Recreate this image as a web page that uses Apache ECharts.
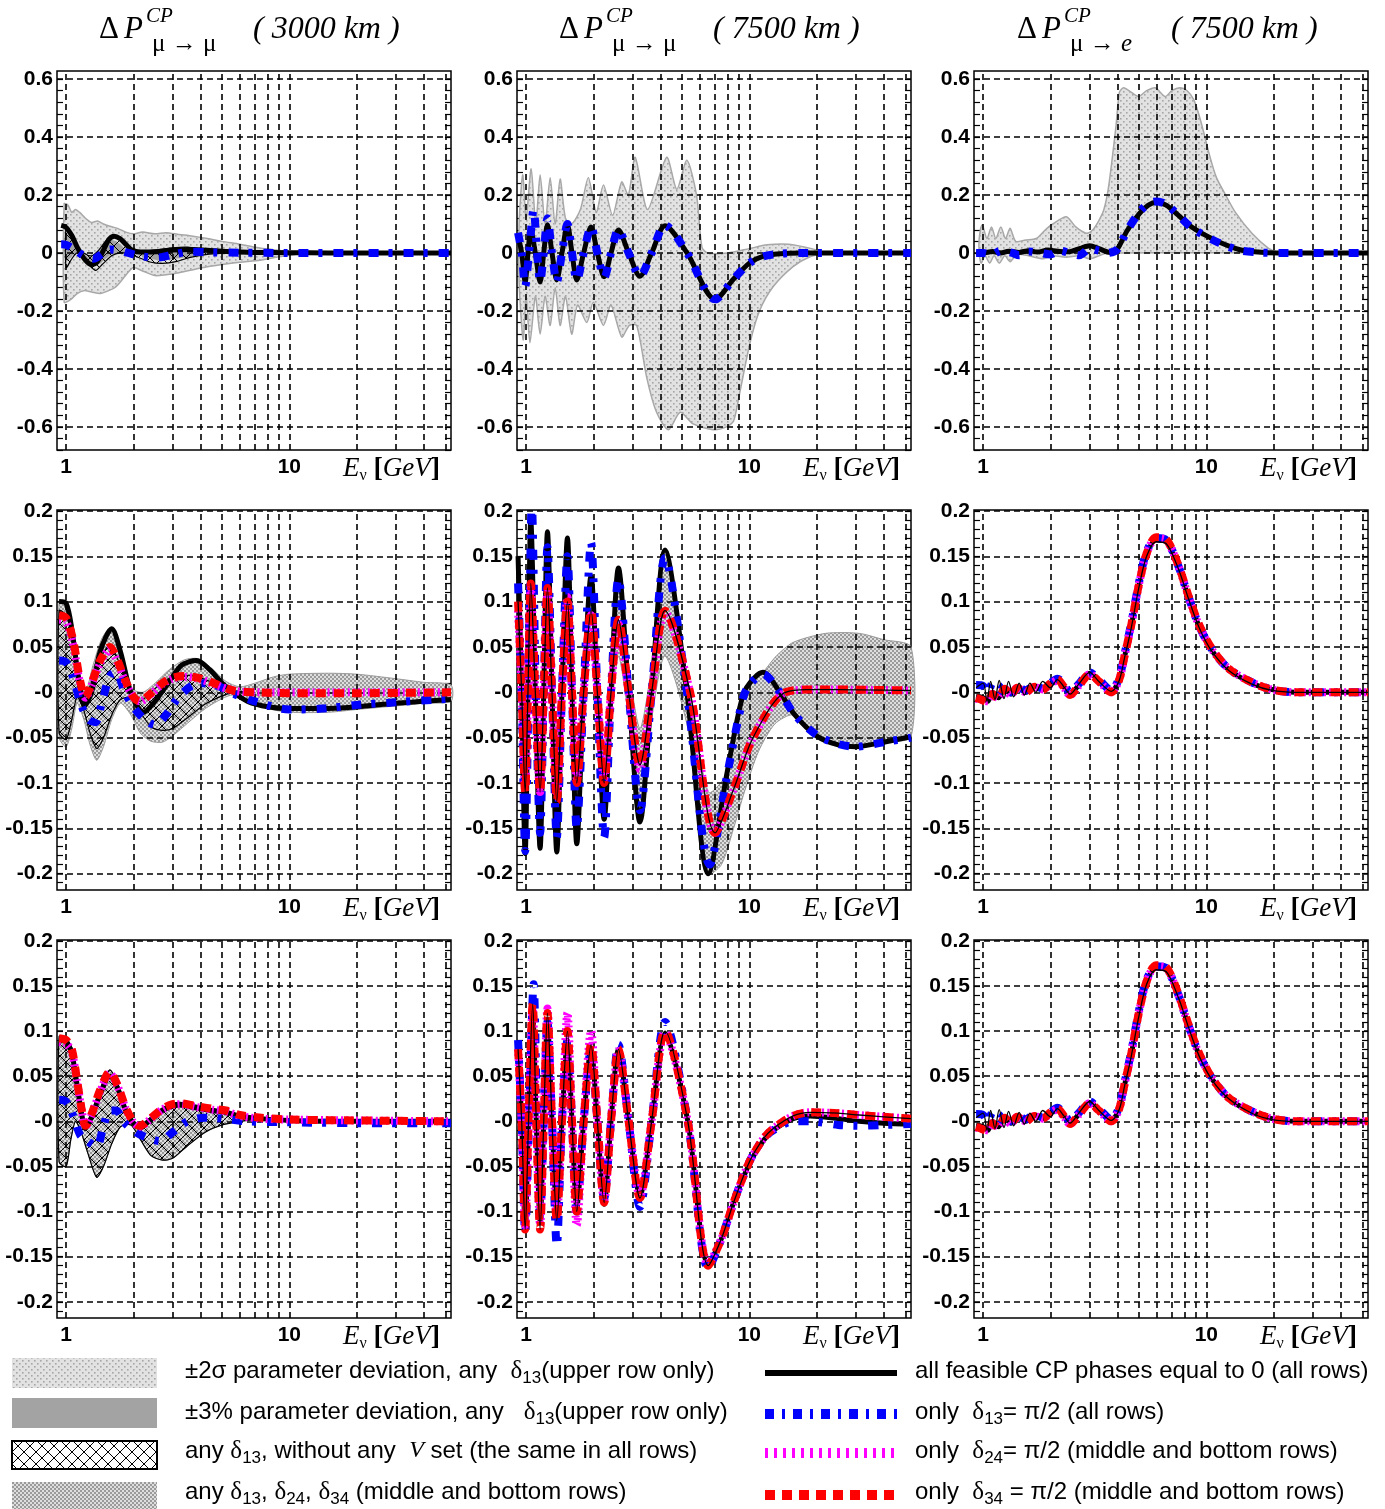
<!DOCTYPE html>
<html><head><meta charset="utf-8">
<script src="https://cdn.jsdelivr.net/npm/echarts@6/dist/echarts.min.js"></script>
<style>html,body{margin:0;padding:0;background:#fff}#c{width:1385px;height:1509px}</style>
</head><body><div id="c"></div>
<script>
// ---------------- axes / ticks ----------------
const X_MIN = 0.91, X_MAX = 53;
const X_GRID = [1,2,3,4,5,6,7,8,9,10,20,30,40,50];
const X_LABEL_VALUES = [1, 10];
const X_LABELS = ['1', '10'];
const TOP_Y_RANGE = [-0.68, 0.628];
const LOW_Y_RANGE = [-0.218, 0.201];
const TOP_Y_VALUES = [-0.6,-0.4,-0.2,0,0.2,0.4,0.6];
const TOP_Y_LABELS = ['-0.6','-0.4','-0.2','0','0.2','0.4','0.6'];
const LOW_Y_VALUES = [-0.2,-0.15,-0.1,-0.05,0,0.05,0.1,0.15,0.2];
const LOW_Y_LABELS = ['-0.2','-0.15','-0.1','-0.05','-0','0.05','0.1','0.15','0.2'];
const TITLES = ['( 3000 km )','( 7500 km )','( 7500 km )'];

// ---------------- top-left: 3000 km, mu->mu ----------------
const TL_S2_UP = [[0.98,0.17],[1.02,0.165],[1.06,0.14],[1.1,0.15],[1.15,0.14],[1.22,0.12],[1.3,0.105],[1.38,0.11],[1.47,0.1],[1.57,0.092],[1.7,0.085],[1.85,0.072],[2.0,0.066],[2.2,0.072],[2.5,0.066],[2.8,0.07],[3.2,0.064],[3.7,0.058],[4.3,0.05],[5,0.04],[6,0.03],[7,0.02],[8.5,0.011],[10,0.005],[12,0.0]];
const TL_S2_LO = [[0.98,-0.17],[1.05,-0.16],[1.12,-0.14],[1.2,-0.13],[1.3,-0.135],[1.42,-0.14],[1.55,-0.13],[1.65,-0.12],[1.75,-0.1],[1.88,-0.07],[2.0,-0.05],[2.2,-0.062],[2.5,-0.078],[2.8,-0.075],[3.2,-0.068],[3.6,-0.06],[4.0,-0.052],[5,-0.04],[6,-0.032],[7.4,-0.025],[9,-0.013],[11,-0.004],[12,0.0]];
const TL_P3_UP = [[1.0,0.07],[1.1,0.02],[1.2,-0.005],[1.3,-0.015],[1.45,0.02],[1.6,0.045],[1.75,0.03],[1.9,0.005],[2.2,0.0],[2.6,0.008],[3.2,0.014],[4,0.008],[5.5,0.002]];
const TL_P3_LO = [[1.0,-0.03],[1.1,0.0],[1.2,-0.018],[1.33,-0.045],[1.45,-0.03],[1.6,-0.005],[1.9,-0.002],[2.2,-0.012],[2.6,-0.025],[3.2,-0.018],[4,-0.006],[5.5,0.0]];
const TL_HX_UP = [[1.0,0.088],[1.06,0.06],[1.12,0.025],[1.2,0.0],[1.3,-0.01],[1.4,0.01],[1.5,0.04],[1.6,0.058],[1.7,0.055],[1.8,0.035],[1.92,0.01],[2.1,0.003],[2.5,0.01],[3.0,0.018],[3.5,0.02],[4.2,0.012],[5,0.006],[6.5,0.002]];
const TL_HX_LO = [[1.0,-0.05],[1.06,-0.02],[1.12,0.0],[1.2,-0.02],[1.3,-0.05],[1.36,-0.06],[1.45,-0.04],[1.6,-0.01],[1.75,0.0],[1.92,-0.002],[2.1,-0.015],[2.4,-0.032],[2.7,-0.036],[3.1,-0.03],[3.6,-0.015],[4.5,-0.003],[6.5,0.0]];
const TL_BLACK = [[0.95,0.095],[1.0,0.088],[1.06,0.06],[1.13,0.015],[1.22,-0.025],[1.3,-0.04],[1.38,-0.03],[1.47,0.01],[1.56,0.048],[1.64,0.058],[1.74,0.05],[1.85,0.03],[1.97,0.01],[2.15,0.003],[2.5,0.004],[3.0,0.01],[3.6,0.012],[4.3,0.009],[5.2,0.005],[7,0.002],[10,0.001],[15,0],[53,0]];
const TL_BLUE = [[0.95,0.03],[1.0,0.028],[1.1,0.01],[1.2,-0.01],[1.33,-0.02],[1.45,-0.002],[1.58,0.012],[1.75,0.008],[1.9,0.0],[2.2,-0.012],[2.56,-0.016],[3.0,-0.006],[3.6,0.004],[4.5,0.002],[6,0.001],[10,0],[53,0]];

// ---------------- top-middle: 7500 km, mu->mu ----------------
const TM_S2_UP = [[0.93,0.1],[0.965,0.27],[1.0,0.12],[1.053,0.29],[1.105,0.1],[1.155,0.27],[1.216,0.1],[1.281,0.26],[1.349,0.1],[1.42,0.255],[1.5,0.12],[1.6,0.1],[1.75,0.15],[1.9,0.26],[2.06,0.14],[2.22,0.235],[2.44,0.13],[2.68,0.245],[2.87,0.2],[3.08,0.33],[3.5,0.15],[4.26,0.33],[4.73,0.22],[5.25,0.32],[5.8,0.2],[6.13,0.02],[6.5,0.0],[8,0.0],[10,0.015],[12,0.028],[15,0.03],[19,0.015],[22,0.0]];
const TM_S2_LO = [[0.93,-0.1],[0.97,-0.3],[1.0,-0.15],[1.04,-0.31],[1.1,-0.15],[1.155,-0.28],[1.216,-0.15],[1.281,-0.25],[1.349,-0.12],[1.42,-0.25],[1.5,-0.15],[1.6,-0.28],[1.7,-0.18],[1.87,-0.24],[2.0,-0.17],[2.22,-0.25],[2.4,-0.18],[2.68,-0.29],[2.9,-0.25],[3.13,-0.25],[3.47,-0.43],[3.84,-0.55],[4.34,-0.61],[4.9,-0.55],[5.6,-0.59],[6.9,-0.61],[7.9,-0.6],[8.5,-0.58],[9.07,-0.48],[10.07,-0.31],[11.1,-0.2],[12.8,-0.116],[15.7,-0.047],[18.7,-0.013],[22,0.0]];
const TM_BLACK = [[0.92,0.06],[0.955,0.0],[0.99,-0.10],[1.019,0.0],[1.049,0.08],[1.0995,0.0],[1.155,-0.10],[1.199,0.0],[1.246,0.097],[1.306,0.0],[1.372,-0.093],[1.447,0.0],[1.531,0.097],[1.605,0.0],[1.686,-0.093],[1.81,0.0],[1.953,0.09],[2.085,0.0],[2.236,-0.082],[2.40,0.0],[2.592,0.079],[2.879,0.0],[3.236,-0.08],[3.65,0.0],[4.19,0.094],[5.26,0.0],[7.03,-0.16],[8.5,-0.09],[10,-0.035],[11.5,-0.012],[13.7,-0.003],[17,0.0],[53,0.0]];
const TM_BLUE = [[0.92,0.07],[0.955,0.0],[0.99,-0.115],[1.03,0.0],[1.08,0.15],[1.12,0.0],[1.155,-0.1],[1.199,0.0],[1.246,0.12],[1.306,0.0],[1.372,-0.1],[1.447,0.0],[1.531,0.1],[1.605,0.0],[1.686,-0.095],[1.81,0.0],[1.953,0.09],[2.085,0.0],[2.236,-0.085],[2.40,0.0],[2.592,0.08],[2.879,0.0],[3.236,-0.08],[3.65,0.0],[4.19,0.095],[5.26,0.0],[7.03,-0.16],[8.5,-0.09],[10,-0.035],[11.5,-0.012],[13.7,-0.003],[17,0.0],[53,0.0]];

// ---------------- top-right: 7500 km, mu->e ----------------
const TR_S2_UP = [[0.96,0.05],[0.99,0.097],[1.04,0.05],[1.09,0.09],[1.14,0.05],[1.2,0.09],[1.26,0.05],[1.32,0.085],[1.4,0.04],[1.55,0.045],[1.73,0.05],[1.9,0.08],[2.05,0.1],[2.36,0.125],[2.6,0.09],[2.9,0.068],[3.1,0.08],[3.29,0.11],[3.47,0.148],[3.65,0.23],[3.94,0.44],[4.08,0.555],[4.26,0.57],[4.6,0.555],[4.97,0.54],[5.4,0.56],[5.9,0.57],[6.54,0.54],[7.0,0.56],[7.64,0.57],[8.2,0.56],[8.77,0.53],[9.4,0.46],[10.4,0.33],[11.1,0.26],[12.2,0.2],[13.5,0.14],[16,0.068],[19,0.016],[21,0.0]];
const TR_S2_LO = [[0.96,0.0],[0.98,-0.035],[1.02,-0.01],[1.07,-0.035],[1.12,-0.01],[1.18,-0.035],[1.25,-0.01],[1.32,-0.03],[1.42,-0.005],[1.6,-0.01],[1.85,-0.02],[2.05,-0.01],[2.35,-0.015],[2.7,-0.01],[3.0,-0.02],[3.3,-0.01],[3.6,0.0],[21,0.0]];
const TR_BLACK = [[0.93,0.0],[1.0,0.0],[1.1,0.005],[1.2,0.0],[1.3,0.006],[1.45,0.002],[1.6,0.008],[1.75,0.003],[1.95,0.01],[2.15,0.006],[2.4,0.004],[2.7,0.015],[3.0,0.025],[3.3,0.015],[3.7,0.002],[3.98,0.012],[4.4,0.075],[5.0,0.135],[5.5,0.165],[6.0,0.175],[6.6,0.165],[7.5,0.13],[8.5,0.092],[9.7,0.065],[11.4,0.038],[14,0.012],[17,0.003],[21,0.0],[53,0.0]];
const TR_BLUE = [[0.93,0.0],[1.0,0.0],[1.1,-0.005],[1.2,0.008],[1.35,0.0],[1.45,-0.008],[1.6,0.005],[1.8,0.0],[2.0,-0.005],[2.2,0.008],[2.45,0.0],[2.7,-0.008],[3.0,0.015],[3.3,0.008],[3.6,0.0],[3.98,0.012],[4.4,0.075],[5.0,0.14],[5.5,0.17],[6.0,0.178],[6.6,0.168],[7.5,0.13],[8.5,0.09],[9.7,0.062],[11.4,0.035],[14,0.01],[17,0.002],[21,0.0],[53,0.0]];

// ---------------- middle-left ----------------
const ML_D_UP = [[0.93,0.1],[1.0,0.1],[1.08,0.07],[1.15,0.02],[1.22,0.0],[1.32,0.03],[1.45,0.06],[1.6,0.072],[1.75,0.047],[1.95,0.005],[2.2,0.0],[2.5,0.01],[2.9,0.025],[3.4,0.036],[3.9,0.037],[4.5,0.026],[5.2,0.012],[6,0.006],[7,0.01],[8.5,0.017],[10,0.02],[15,0.021],[20,0.02],[30,0.015],[40,0.011],[53,0.008]];
const ML_D_LO = [[0.93,-0.05],[1.0,-0.06],[1.06,-0.04],[1.12,-0.012],[1.2,-0.03],[1.28,-0.058],[1.37,-0.075],[1.47,-0.06],[1.6,-0.03],[1.75,-0.012],[1.95,-0.025],[2.15,-0.045],[2.4,-0.054],[2.7,-0.055],[3.0,-0.048],[3.5,-0.034],[4.2,-0.018],[5.0,-0.007],[5.6,-0.003],[6.5,-0.01],[8,-0.018],[10,-0.022],[15,-0.022],[20,-0.019],[30,-0.015],[40,-0.012],[53,-0.01]];
const ML_HX_UP = [[0.93,0.09],[1.0,0.085],[1.08,0.055],[1.15,0.015],[1.22,-0.005],[1.3,0.012],[1.42,0.037],[1.57,0.052],[1.7,0.037],[1.85,0.012],[2.0,-0.005],[2.14,-0.01],[2.35,-0.002],[2.7,0.011],[3.0,0.017],[3.35,0.019],[3.9,0.017],[4.6,0.01],[5.6,0.002],[7,0.0]];
const ML_HX_LO = [[0.93,-0.045],[1.0,-0.052],[1.06,-0.03],[1.12,-0.005],[1.2,-0.02],[1.28,-0.045],[1.37,-0.062],[1.47,-0.05],[1.6,-0.025],[1.75,-0.008],[1.95,-0.006],[2.15,-0.022],[2.4,-0.038],[2.7,-0.042],[3.0,-0.04],[3.5,-0.028],[4.2,-0.013],[5.0,-0.004],[5.6,0.0],[7,0.0]];
const ML_BLACK = [[0.93,0.1],[1.0,0.098],[1.06,0.07],[1.13,0.02],[1.21,-0.015],[1.3,0.0],[1.42,0.045],[1.6,0.07],[1.75,0.045],[1.95,0.0],[2.22,-0.022],[2.5,-0.01],[2.9,0.012],[3.3,0.03],[3.84,0.035],[4.4,0.025],[5.0,0.01],[5.6,0.0],[6.5,-0.01],[8,-0.016],[10,-0.018],[14,-0.018],[20,-0.016],[30,-0.012],[40,-0.01],[53,-0.008]];
const ML_BLUE = [[0.93,0.035],[1.0,0.033],[1.08,0.015],[1.16,-0.012],[1.26,-0.03],[1.35,-0.033],[1.45,-0.01],[1.57,0.018],[1.68,0.022],[1.8,0.005],[1.95,-0.012],[2.2,-0.028],[2.5,-0.036],[2.8,-0.025],[3.2,-0.005],[3.7,0.008],[4.3,0.01],[5.0,0.005],[5.8,-0.003],[7,-0.01],[10,-0.019],[14,-0.018],[20,-0.014],[30,-0.011],[53,-0.007]];
const ML_MAG = [[0.93,0.08],[1.0,0.078],[1.08,0.05],[1.15,0.012],[1.22,-0.006],[1.3,0.008],[1.42,0.032],[1.57,0.047],[1.7,0.033],[1.85,0.01],[2.0,-0.005],[2.14,-0.01],[2.35,-0.004],[2.7,0.009],[3.0,0.015],[3.35,0.017],[3.9,0.015],[4.6,0.009],[5.6,0.002],[7,0.0],[53,0.0]];
const ML_RED = [[0.93,0.085],[1.0,0.082],[1.08,0.055],[1.15,0.015],[1.22,-0.005],[1.3,0.01],[1.42,0.035],[1.57,0.05],[1.7,0.035],[1.85,0.012],[2.0,-0.005],[2.14,-0.01],[2.35,-0.003],[2.7,0.01],[3.0,0.016],[3.35,0.018],[3.9,0.016],[4.6,0.01],[5.6,0.002],[7,0.0],[10,-0.001],[20,-0.001],[53,0.0]];

// ---------------- middle-center ----------------
const MM_D_UP = [[0.92,0.15],[0.955,0.03],[0.99,-0.08],[1.019,0.03],[1.049,0.19],[1.0995,0.03],[1.155,-0.08],[1.199,0.03],[1.246,0.177],[1.306,0.03],[1.372,-0.08],[1.447,0.03],[1.531,0.17],[1.605,0.03],[1.686,-0.07],[1.81,0.03],[1.953,0.13],[2.085,0.03],[2.236,-0.06],[2.40,0.03],[2.592,0.137],[2.879,0.03],[3.236,-0.04],[3.65,0.03],[4.19,0.157],[5.25,0.02],[6.55,-0.11],[7.9,-0.09],[9.0,-0.02],[9.7,0.005],[11.5,0.022],[13.2,0.04],[15.7,0.055],[22,0.065],[31,0.065],[40,0.058],[53,0.05]];
const MM_D_LO = [[0.92,0.07],[0.955,-0.03],[0.99,-0.178],[1.019,-0.03],[1.049,0.07],[1.0995,-0.03],[1.155,-0.172],[1.199,-0.03],[1.246,0.07],[1.306,-0.03],[1.372,-0.176],[1.447,-0.03],[1.531,0.06],[1.605,-0.03],[1.686,-0.167],[1.81,-0.03],[1.953,0.05],[2.085,-0.03],[2.236,-0.14],[2.40,-0.03],[2.592,0.04],[2.879,-0.03],[3.236,-0.143],[3.65,-0.03],[4.19,0.04],[5.3,-0.04],[6.55,-0.2],[7.5,-0.19],[8.5,-0.15],[9.5,-0.11],[11,-0.065],[13,-0.035],[15.7,-0.025],[20,-0.048],[25,-0.058],[30,-0.06],[40,-0.055],[53,-0.049]];
const MM_BLACK = [[0.92,0.15],[0.955,0.0],[0.99,-0.178],[1.019,0.0],[1.049,0.19],[1.0995,0.0],[1.155,-0.172],[1.199,0.0],[1.246,0.177],[1.306,0.0],[1.372,-0.176],[1.447,0.0],[1.531,0.17],[1.605,0.0],[1.686,-0.167],[1.81,0.0],[1.953,0.128],[2.085,0.0],[2.236,-0.14],[2.40,0.0],[2.592,0.137],[2.879,0.0],[3.236,-0.143],[3.65,0.0],[4.19,0.157],[5.25,0.0],[6.55,-0.2],[7.9,-0.092],[9.0,-0.02],[9.7,0.005],[11.5,0.022],[13.7,0.0],[16,-0.025],[20,-0.048],[25,-0.058],[30,-0.06],[40,-0.055],[53,-0.049]];
const MM_BLUE = [[0.92,0.12],[0.955,0.0],[0.99,-0.175],[1.025,0.0],[1.06,0.21],[1.105,0.0],[1.155,-0.155],[1.199,0.0],[1.246,0.16],[1.306,0.0],[1.372,-0.16],[1.447,0.0],[1.531,0.15],[1.605,0.0],[1.686,-0.15],[1.81,0.0],[1.953,0.165],[2.085,0.0],[2.236,-0.16],[2.40,0.0],[2.592,0.125],[2.879,0.0],[3.236,-0.13],[3.65,0.0],[4.19,0.148],[5.25,0.0],[6.65,-0.19],[7.9,-0.095],[9.0,-0.025],[9.7,0.003],[11.5,0.02],[13.7,0.0],[16,-0.025],[20,-0.047],[25,-0.057],[30,-0.06],[40,-0.055],[53,-0.05]];
const MM_MAG = [[0.92,0.09],[0.955,0.0],[0.99,-0.105],[1.019,0.0],[1.049,0.115],[1.0995,0.0],[1.155,-0.11],[1.199,0.0],[1.246,0.11],[1.306,0.0],[1.372,-0.115],[1.447,0.0],[1.531,0.105],[1.605,0.0],[1.686,-0.095],[1.81,0.0],[1.953,0.085],[2.085,0.0],[2.236,-0.095],[2.40,0.0],[2.592,0.075],[2.879,0.0],[3.236,-0.085],[3.65,0.0],[4.19,0.088],[5.43,0.0],[7.03,-0.155],[8.5,-0.107],[10,-0.059],[11.5,-0.03],[13,-0.01],[14.5,0.0],[18,0.003],[25,0.003],[53,0.002]];
const MM_RED = [[0.92,0.1],[0.955,0.0],[0.99,-0.11],[1.019,0.0],[1.049,0.12],[1.0995,0.0],[1.155,-0.11],[1.199,0.0],[1.246,0.115],[1.306,0.0],[1.372,-0.12],[1.447,0.0],[1.531,0.1],[1.605,0.0],[1.686,-0.1],[1.81,0.0],[1.953,0.09],[2.085,0.0],[2.236,-0.1],[2.40,0.0],[2.592,0.08],[2.879,0.0],[3.236,-0.08],[3.65,0.0],[4.19,0.09],[5.43,0.0],[7.03,-0.155],[8.5,-0.107],[10,-0.059],[11.5,-0.03],[13,-0.01],[14.5,0.0],[18,0.003],[25,0.003],[53,0.002]];

// ---------------- middle-right ----------------
const MR_THIN = [[0.93,0.005],[1.0,0.01],[1.04,-0.01],[1.08,0.012],[1.13,-0.008],[1.18,0.013],[1.24,-0.007],[1.3,0.012],[1.37,-0.005],[1.45,0.01],[1.53,-0.003],[1.62,0.01],[1.72,0.0],[1.85,0.012],[2.0,0.005],[2.15,0.014],[2.3,0.006],[2.45,-0.002],[2.7,0.01],[3.0,0.022],[3.3,0.012],[3.75,0.001],[4.07,0.013],[4.3,0.038],[4.6,0.07],[5.0,0.117],[5.4,0.15],[5.95,0.166],[6.6,0.164],[7.5,0.136],[8.3,0.104],[9.3,0.071],[10.6,0.045],[12.6,0.024],[16,0.009],[19.7,0.002],[25,0.0],[53,0.0]];
const MR_BLACK = [[0.93,-0.004],[1.0,-0.006],[1.05,-0.01],[1.1,0.0],[1.17,-0.006],[1.25,0.005],[1.33,-0.002],[1.42,0.006],[1.55,0.0],[1.7,0.007],[1.85,0.003],[2.0,0.01],[2.15,0.014],[2.3,0.006],[2.45,-0.002],[2.7,0.009],[3.0,0.021],[3.3,0.013],[3.75,0.001],[4.07,0.014],[4.3,0.039],[4.6,0.072],[5.0,0.119],[5.4,0.152],[5.95,0.168],[6.6,0.166],[7.5,0.138],[8.3,0.105],[9.3,0.072],[10.6,0.046],[12.6,0.025],[16,0.01],[19.7,0.003],[25,0.0],[53,0.0]];
const MR_BLUE = [[0.93,0.008],[1.0,0.007],[1.05,0.0],[1.1,0.01],[1.17,0.0],[1.25,0.008],[1.33,0.0],[1.42,0.007],[1.55,0.002],[1.7,0.008],[1.85,0.004],[2.0,0.01],[2.15,0.015],[2.3,0.009],[2.45,0.0],[2.7,0.01],[3.0,0.022],[3.3,0.014],[3.75,0.002],[4.07,0.016],[4.3,0.042],[4.6,0.075],[5.0,0.122],[5.4,0.155],[5.95,0.17],[6.6,0.168],[7.5,0.139],[8.3,0.106],[9.3,0.073],[10.6,0.047],[12.6,0.026],[16,0.011],[19.7,0.003],[25,0.0],[53,0.0]];
const MR_MAG = [[0.93,-0.007],[1.0,-0.009],[1.05,-0.01],[1.1,-0.002],[1.17,-0.006],[1.25,0.004],[1.33,-0.003],[1.42,0.005],[1.55,0.0],[1.7,0.006],[1.85,0.003],[2.0,0.009],[2.15,0.013],[2.3,0.005],[2.45,-0.003],[2.7,0.008],[3.0,0.02],[3.3,0.012],[3.75,0.0],[4.07,0.014],[4.3,0.04],[4.6,0.073],[5.0,0.12],[5.4,0.153],[5.95,0.17],[6.6,0.168],[7.5,0.139],[8.3,0.106],[9.3,0.073],[10.6,0.047],[12.6,0.026],[16,0.011],[19.7,0.003],[25,0.0],[53,0.0]];
const MR_RED = [[0.93,-0.006],[1.0,-0.009],[1.05,-0.011],[1.1,-0.002],[1.17,-0.007],[1.25,0.004],[1.33,-0.003],[1.42,0.005],[1.55,0.0],[1.7,0.006],[1.85,0.003],[2.0,0.01],[2.15,0.014],[2.3,0.006],[2.45,-0.003],[2.7,0.008],[3.0,0.02],[3.3,0.012],[3.75,0.0],[4.07,0.014],[4.3,0.04],[4.6,0.073],[5.0,0.12],[5.4,0.153],[5.95,0.171],[6.6,0.169],[7.5,0.14],[8.3,0.107],[9.3,0.074],[10.6,0.048],[12.6,0.026],[16,0.011],[19.7,0.003],[25,0.0],[53,0.0]];

// ---------------- bottom-left ----------------
const BL_HX_UP = [[0.93,0.094],[1.0,0.092],[1.06,0.082],[1.12,0.047],[1.18,0.012],[1.22,-0.004],[1.3,0.009],[1.42,0.036],[1.57,0.057],[1.7,0.042],[1.85,0.016],[2.0,0.001],[2.14,-0.004],[2.35,0.003],[2.7,0.015],[3.0,0.02],[3.24,0.021],[3.8,0.018],[4.5,0.014],[5.2,0.011],[6,0.006],[7.5,0.003]];
const BL_HX_LO = [[0.93,-0.045],[1.0,-0.05],[1.05,-0.02],[1.1,0.0],[1.16,-0.01],[1.25,-0.035],[1.37,-0.062],[1.47,-0.05],[1.6,-0.025],[1.75,-0.006],[1.95,-0.004],[2.15,-0.02],[2.4,-0.038],[2.7,-0.043],[3.0,-0.041],[3.5,-0.027],[4.2,-0.012],[5.0,-0.004],[6,0.0],[7.5,0.003]];
const BL_BLACK = [[0.93,0.09],[1.0,0.088],[1.06,0.075],[1.12,0.04],[1.18,0.005],[1.22,-0.008],[1.3,0.005],[1.42,0.03],[1.57,0.05],[1.7,0.037],[1.85,0.012],[2.0,-0.002],[2.14,-0.007],[2.35,0.0],[2.7,0.012],[3.0,0.017],[3.24,0.018],[3.8,0.015],[4.5,0.012],[5.2,0.01],[6,0.006],[7.5,0.003],[10,0.001],[20,0.0],[53,0.0]];
const BL_BLUE = [[0.93,0.024],[1.0,0.022],[1.08,0.005],[1.155,-0.015],[1.25,-0.022],[1.37,-0.028],[1.47,-0.005],[1.57,0.012],[1.68,0.012],[1.8,0.0],[2.0,-0.01],[2.2,-0.016],[2.64,-0.022],[3.0,-0.012],[3.5,0.0],[4.2,0.004],[5,0.003],[6.5,0.0],[10,-0.001],[20,-0.002],[53,-0.002]];
const BL_MAG = [[0.93,0.088],[1.0,0.086],[1.06,0.077],[1.12,0.043],[1.18,0.009],[1.22,-0.006],[1.3,0.007],[1.42,0.033],[1.57,0.053],[1.7,0.039],[1.85,0.014],[2.0,-0.001],[2.14,-0.006],[2.35,0.001],[2.7,0.013],[3.0,0.018],[3.24,0.019],[3.8,0.016],[4.5,0.013],[5.2,0.011],[6,0.006],[7.5,0.003],[10,0.002],[20,0.001],[53,0.0]];
const BL_RED = [[0.93,0.092],[1.0,0.09],[1.06,0.08],[1.12,0.045],[1.18,0.01],[1.22,-0.005],[1.3,0.008],[1.42,0.035],[1.57,0.055],[1.7,0.04],[1.85,0.015],[2.0,0.0],[2.14,-0.005],[2.35,0.002],[2.7,0.014],[3.0,0.019],[3.24,0.02],[3.8,0.017],[4.5,0.014],[5.2,0.012],[6,0.007],[7.5,0.004],[10,0.002],[20,0.001],[53,0.0]];

// ---------------- bottom-center ----------------
const BM_BLACK = [[0.92,0.08],[0.955,0.0],[0.99,-0.115],[1.025,0.0],[1.07,0.12],[1.11,0.0],[1.155,-0.11],[1.199,0.0],[1.246,0.11],[1.306,0.0],[1.372,-0.1],[1.447,0.0],[1.531,0.09],[1.605,0.0],[1.686,-0.095],[1.81,0.0],[1.953,0.08],[2.085,0.0],[2.236,-0.092],[2.40,0.0],[2.592,0.08],[2.879,0.0],[3.236,-0.082],[3.65,0.0],[4.19,0.097],[5.3,0.0],[6.55,-0.158],[7.5,-0.13],[8.5,-0.09],[10,-0.047],[11.5,-0.022],[12.8,-0.01],[15.7,0.003],[18.7,0.006],[25,0.003],[31,0.0],[40,-0.002],[53,-0.003]];
const BM_BLUE = [[0.92,0.09],[0.955,0.0],[0.99,-0.123],[1.03,0.0],[1.08,0.152],[1.12,0.0],[1.155,-0.11],[1.199,0.0],[1.246,0.11],[1.306,0.0],[1.372,-0.138],[1.447,0.0],[1.531,0.09],[1.605,0.0],[1.686,-0.1],[1.81,0.0],[1.953,0.08],[2.085,0.0],[2.236,-0.085],[2.40,0.0],[2.592,0.085],[2.879,0.0],[3.236,-0.095],[3.65,0.0],[4.19,0.11],[5.3,0.0],[6.55,-0.163],[7.5,-0.13],[8.5,-0.09],[10,-0.045],[11.5,-0.02],[12.8,-0.01],[15.7,0.0],[18.7,0.0],[25,-0.004],[31,-0.005],[40,-0.004],[53,-0.003]];
const BM_MAG = [[0.92,0.08],[0.955,0.0],[0.99,-0.115],[1.025,0.0],[1.07,0.125],[1.11,0.0],[1.155,-0.115],[1.199,0.0],[1.246,0.125],[1.306,0.0],[1.372,-0.105],[1.447,0.0],[1.531,0.12],[1.605,0.0],[1.686,-0.115],[1.81,0.0],[1.953,0.1],[2.085,0.0],[2.236,-0.088],[2.40,0.0],[2.592,0.078],[2.879,0.0],[3.236,-0.083],[3.65,0.0],[4.19,0.098],[5.3,0.0],[6.55,-0.158],[7.5,-0.13],[8.5,-0.09],[10,-0.045],[11.5,-0.02],[12.8,-0.008],[15.7,0.006],[18.7,0.01],[25,0.009],[31,0.007],[40,0.005],[53,0.003]];
const BM_RED = [[0.92,0.08],[0.955,0.0],[0.99,-0.12],[1.025,0.0],[1.07,0.13],[1.11,0.0],[1.155,-0.12],[1.199,0.0],[1.246,0.12],[1.306,0.0],[1.372,-0.11],[1.447,0.0],[1.531,0.1],[1.605,0.0],[1.686,-0.1],[1.81,0.0],[1.953,0.085],[2.085,0.0],[2.236,-0.09],[2.40,0.0],[2.592,0.08],[2.879,0.0],[3.236,-0.085],[3.65,0.0],[4.19,0.1],[5.3,0.0],[6.55,-0.16],[7.5,-0.13],[8.5,-0.09],[10,-0.045],[11.5,-0.02],[12.8,-0.008],[15.7,0.006],[18.7,0.01],[25,0.009],[31,0.007],[40,0.005],[53,0.003]];

// ---------------- bottom-right ----------------
const BR_THIN = [[0.93,0.004],[1.0,0.009],[1.04,-0.01],[1.08,0.012],[1.13,-0.008],[1.18,0.013],[1.24,-0.007],[1.3,0.011],[1.37,-0.005],[1.45,0.01],[1.53,-0.003],[1.62,0.009],[1.72,0.0],[1.85,0.012],[2.0,0.005],[2.15,0.014],[2.3,0.006],[2.45,-0.002],[2.7,0.01],[3.0,0.022],[3.3,0.012],[3.75,0.001],[4.07,0.013],[4.3,0.039],[4.6,0.071],[5.0,0.118],[5.4,0.152],[5.95,0.168],[6.6,0.166],[7.5,0.137],[8.3,0.105],[9.3,0.072],[10.6,0.046],[12.6,0.025],[16,0.009],[19.7,0.002],[25,0.0],[53,0.0]];
const BR_BLACK = [[0.93,-0.004],[1.0,-0.006],[1.05,-0.01],[1.1,0.0],[1.17,-0.006],[1.25,0.005],[1.33,-0.002],[1.42,0.006],[1.55,0.0],[1.7,0.007],[1.85,0.003],[2.0,0.01],[2.15,0.014],[2.3,0.006],[2.45,-0.002],[2.7,0.009],[3.0,0.021],[3.3,0.013],[3.75,0.001],[4.07,0.014],[4.3,0.04],[4.6,0.073],[5.0,0.121],[5.4,0.154],[5.95,0.17],[6.6,0.168],[7.5,0.139],[8.3,0.106],[9.3,0.073],[10.6,0.047],[12.6,0.025],[16,0.01],[19.7,0.003],[25,0.0],[53,0.0]];
const BR_BLUE = [[0.93,0.008],[1.0,0.007],[1.05,0.0],[1.1,0.01],[1.17,0.0],[1.25,0.008],[1.33,0.0],[1.42,0.007],[1.55,0.002],[1.7,0.008],[1.85,0.004],[2.0,0.01],[2.15,0.015],[2.3,0.009],[2.45,0.0],[2.7,0.01],[3.0,0.022],[3.3,0.014],[3.75,0.002],[4.07,0.016],[4.3,0.043],[4.6,0.076],[5.0,0.124],[5.4,0.157],[5.95,0.172],[6.6,0.17],[7.5,0.14],[8.3,0.107],[9.3,0.074],[10.6,0.048],[12.6,0.026],[16,0.011],[19.7,0.003],[25,0.0],[53,0.0]];
const BR_MAG = [[0.93,-0.007],[1.0,-0.009],[1.05,-0.01],[1.1,-0.002],[1.17,-0.006],[1.25,0.004],[1.33,-0.003],[1.42,0.005],[1.55,0.0],[1.7,0.006],[1.85,0.003],[2.0,0.009],[2.15,0.013],[2.3,0.005],[2.45,-0.003],[2.7,0.008],[3.0,0.02],[3.3,0.012],[3.75,0.0],[4.07,0.014],[4.3,0.041],[4.6,0.074],[5.0,0.122],[5.4,0.155],[5.95,0.172],[6.6,0.17],[7.5,0.14],[8.3,0.107],[9.3,0.074],[10.6,0.048],[12.6,0.026],[16,0.011],[19.7,0.003],[25,0.0],[53,0.0]];
const BR_RED = [[0.93,-0.006],[1.0,-0.009],[1.05,-0.011],[1.1,-0.002],[1.17,-0.007],[1.25,0.004],[1.33,-0.003],[1.42,0.005],[1.55,0.0],[1.7,0.006],[1.85,0.003],[2.0,0.01],[2.15,0.014],[2.3,0.006],[2.45,-0.003],[2.7,0.008],[3.0,0.02],[3.3,0.012],[3.75,0.0],[4.07,0.014],[4.3,0.041],[4.6,0.074],[5.0,0.122],[5.4,0.155],[5.95,0.173],[6.6,0.171],[7.5,0.141],[8.3,0.108],[9.3,0.075],[10.6,0.048],[12.6,0.026],[16,0.011],[19.7,0.003],[25,0.0],[53,0.0]];

// ---------------- patterns ----------------
function makePattern(w, h, draw) {
  const c = document.createElement('canvas'); c.width = w; c.height = h;
  const g = c.getContext('2d'); draw(g); return { image: c, repeat: 'repeat' };
}
const PAT_2S = makePattern(6, 6, g => { g.fillStyle = '#e2e2e2'; g.fillRect(0,0,6,6); g.fillStyle = '#a6a6a6'; g.fillRect(1,1,1.6,1.6); g.fillRect(4,4,1.6,1.6); });
const PAT_D = makePattern(4, 4, g => { g.fillStyle = '#9a9a9a'; g.fillRect(0,0,4,4); g.fillStyle = '#dedede'; g.fillRect(0,0,2,2); g.fillRect(2,2,2,2); });
const PAT_HATCH = makePattern(12, 12, g => { g.strokeStyle = '#000'; g.lineWidth = 1; g.beginPath(); g.moveTo(0,0); g.lineTo(12,12); g.moveTo(12,0); g.lineTo(0,12); g.stroke(); });

const BAND_STYLE = {
  s2: { fill: PAT_2S, stroke: '#a8a8a8', lineWidth: 1.5 },
  p3: { fill: '#a3a3a3', stroke: null, lineWidth: 0 },
  d: { fill: PAT_D, stroke: '#9a9a9a', lineWidth: 1 },
  hatch: { fill: PAT_HATCH, stroke: '#000', lineWidth: 1.2 }
};
const LINE_STYLE = {
  black: { color: '#000', width: 5, type: 'solid', z: 5 },
  blue: { color: '#0000ff', width: 8, type: [10,10,4,11], z: 6 },
  magenta: { color: '#ff00ff', width: 8, type: [2,3], z: 7 },
  red: { color: '#ff0000', width: 8, type: [10,8], z: 8 },
  thin: { color: '#000', width: 1.3, type: 'solid', z: 9 }
};

const PANELS = [
  { bands: [[TL_S2_UP,TL_S2_LO,'s2'],[TL_P3_UP,TL_P3_LO,'p3'],[TL_HX_UP,TL_HX_LO,'hatch']], lines: [[TL_BLACK,'black'],[TL_BLUE,'blue']] },
  { bands: [[TM_S2_UP,TM_S2_LO,'s2']], lines: [[TM_BLACK,'black'],[TM_BLUE,'blue']] },
  { bands: [[TR_S2_UP,TR_S2_LO,'s2']], lines: [[TR_BLACK,'black'],[TR_BLUE,'blue']] },
  { bands: [[ML_D_UP,ML_D_LO,'d'],[ML_HX_UP,ML_HX_LO,'hatch']], lines: [[ML_BLACK,'black'],[ML_BLUE,'blue'],[ML_MAG,'magenta'],[ML_RED,'red']] },
  { bands: [[MM_D_UP,MM_D_LO,'d']], lines: [[MM_BLACK,'black'],[MM_BLUE,'blue'],[MM_MAG,'magenta'],[MM_RED,'red'],[MM_RED,'thin']] },
  { bands: [], lines: [[MR_BLACK,'black'],[MR_BLUE,'blue'],[MR_MAG,'magenta'],[MR_RED,'red'],[MR_THIN,'thin']] },
  { bands: [[BL_HX_UP,BL_HX_LO,'d'],[BL_HX_UP,BL_HX_LO,'hatch']], lines: [[BL_BLACK,'black'],[BL_BLUE,'blue'],[BL_MAG,'magenta'],[BL_RED,'red']] },
  { bands: [], lines: [[BM_BLACK,'black'],[BM_BLUE,'blue'],[BM_MAG,'magenta'],[BM_RED,'red'],[BM_RED,'thin']] },
  { bands: [], lines: [[BR_BLACK,'black'],[BR_BLUE,'blue'],[BR_MAG,'magenta'],[BR_RED,'red'],[BR_THIN,'thin']] }
];

// ---------------- layout ----------------
const COLS = [57, 517, 974], ROWS = [71, 510, 940], W = 394, HS = [379, 380, 378];
const SANS = 'Liberation Sans', SERIF = 'Liberation Serif';
const grid = [], xAxis = [], yAxis = [], series = [];

function minorTicks(range, step) {
  const out = []; const n0 = Math.ceil(range[0] / step - 1e-9), n1 = Math.floor(range[1] / step + 1e-9);
  for (let n = n0; n <= n1; n++) out.push(Math.round(n * step * 1e6) / 1e6);
  return out;
}

PANELS.forEach((p, i) => {
  const r = Math.floor(i / 3), c = i % 3;
  const yr = r === 0 ? TOP_Y_RANGE : LOW_Y_RANGE;
  const yv = r === 0 ? TOP_Y_VALUES : LOW_Y_VALUES;
  const yl = r === 0 ? TOP_Y_LABELS : LOW_Y_LABELS;
  const minor = minorTicks(yr, r === 0 ? 0.04 : 0.01);
  grid.push({ left: COLS[c], top: ROWS[r], width: W, height: HS[r], show: true, borderColor: '#000', borderWidth: 1.5, backgroundColor: 'rgba(0,0,0,0)', containLabel: false, outerBoundsMode: 'none' });
  xAxis.push({ type: 'log', logBase: 10, gridIndex: i, min: X_MIN, max: X_MAX,
    axisLine: { show: false }, axisTick: { show: false }, splitLine: { show: false }, minorTick: { show: false },
    axisLabel: { margin: 7, fontFamily: SANS, fontWeight: 'bold', fontSize: 21, color: '#000',
      formatter: v => { const k = X_LABEL_VALUES.findIndex(x => Math.abs(x - v) < 1e-6); return k >= 0 ? X_LABELS[k] : ''; } } });
  yAxis.push({ type: 'value', gridIndex: i, position: 'left', min: yr[0], max: yr[1],
    axisLine: { show: false }, splitLine: { show: false },
    axisTick: { show: true, inside: true, length: 6, customValues: minor, lineStyle: { color: '#000', width: 1.2 } },
    axisLabel: { customValues: yv, margin: 4, fontFamily: SANS, fontWeight: 'bold', fontSize: 21, color: '#000',
      formatter: v => { const k = yv.findIndex(x => Math.abs(x - v) < 1e-9); return k >= 0 ? yl[k] : ''; } } });
  yAxis.push({ type: 'value', gridIndex: i, position: 'right', min: yr[0], max: yr[1],
    axisLine: { show: false }, splitLine: { show: false }, axisLabel: { show: false },
    axisTick: { show: true, inside: true, length: 6, customValues: minor, lineStyle: { color: '#000', width: 1.2 } } });

  p.bands.forEach(([up, lo, st], k) => {
    series.push({ type: 'custom', xAxisIndex: i, yAxisIndex: i * 2, z: 1 + k, silent: true, animation: false,
      data: [[1, 0]],
      renderItem: (params, api) => {
        const pts = up.map(q => api.coord(q)).concat(lo.slice().reverse().map(q => api.coord(q)));
        return { type: 'polygon', shape: { points: pts, smooth: 0.25 }, style: Object.assign({}, BAND_STYLE[st]) };
      } });
  });
  // dashed grid lines
  series.push({ type: 'line', xAxisIndex: i, yAxisIndex: i * 2, z: 4, data: [[1, 0]], symbol: 'none', lineStyle: { opacity: 0 }, silent: true, animation: false,
    markLine: { silent: true, symbol: ['none', 'none'], animation: false, label: { show: false },
      lineStyle: { color: '#000', type: [6, 4], width: 1.6 },
      emphasis: { disabled: true },
      data: X_GRID.map(v => ({ xAxis: v })).concat(yv.map(v => ({ yAxis: v }))) } });
  p.lines.forEach(([d, st]) => {
    const s = LINE_STYLE[st];
    series.push({ type: 'line', xAxisIndex: i, yAxisIndex: i * 2, z: s.z, data: d, symbol: 'none', showSymbol: false,
      smooth: 0.3, silent: true, animation: false, lineStyle: { color: s.color, width: s.width, type: s.type, cap: 'butt', join: 'round' } });
  });
});

// ---------------- graphic: titles, axis titles, legend ----------------
const graphic = [];
const TITLE_X = [0, 460, 918];
TITLE_X.forEach((o, c) => {
  graphic.push({ type: 'text', x: 99 + o, y: 30, style: { text: 'Δ', font: '31px ' + SERIF, fill: '#000', textVerticalAlign: 'middle' } });
  graphic.push({ type: 'text', x: 124 + o, y: 30, style: { text: 'P', font: 'italic 31px ' + SERIF, fill: '#000', textVerticalAlign: 'middle' } });
  graphic.push({ type: 'text', x: 146 + o, y: 16, style: { text: 'CP', font: 'italic 21px ' + SERIF, fill: '#000', textVerticalAlign: 'middle' } });
  graphic.push({ type: 'text', x: 152 + o, y: 44, style: c < 2 ? { text: 'μ → μ', font: '25px ' + SERIF, fill: '#000', textVerticalAlign: 'middle' }
    : { text: 'μ → {e|e}', font: '25px ' + SERIF, fill: '#000', textVerticalAlign: 'middle', rich: { e: { fontFamily: SERIF, fontStyle: 'italic', fontSize: 25 } } } });
  graphic.push({ type: 'text', x: 253 + o, y: 30, style: { text: TITLES[c], font: 'italic 32px ' + SERIF, fill: '#000', textVerticalAlign: 'middle' } });
});
for (let r = 0; r < 3; r++) for (let c = 0; c < 3; c++) {
  graphic.push({ type: 'text', x: COLS[c] + 286, y: ROWS[r] + HS[r] + 19, style: {
    text: '{e|E}{n|ν} {b|[}{g|GeV}{b|]}', font: '27px ' + SERIF, fill: '#000', textVerticalAlign: 'middle',
    rich: { e: { fontFamily: SERIF, fontStyle: 'italic', fontSize: 27, lineHeight: 30 },
            n: { fontFamily: SERIF, fontSize: 16, lineHeight: 16, verticalAlign: 'bottom' },
            b: { fontFamily: SERIF, fontWeight: 'bold', fontSize: 28, lineHeight: 30 },
            g: { fontFamily: SERIF, fontStyle: 'italic', fontSize: 27, lineHeight: 30 } } } });
}
// legend swatches
graphic.push({ type: 'rect', shape: { x: 12, y: 1358, width: 145, height: 30 }, style: { fill: PAT_2S } });
graphic.push({ type: 'rect', shape: { x: 12, y: 1398, width: 145, height: 30 }, style: { fill: '#a3a3a3' } });
graphic.push({ type: 'rect', shape: { x: 12, y: 1441, width: 145, height: 28 }, style: { fill: '#fff' } });
graphic.push({ type: 'rect', shape: { x: 12, y: 1441, width: 145, height: 28 }, style: { fill: PAT_HATCH, stroke: '#000', lineWidth: 2 } });
graphic.push({ type: 'rect', shape: { x: 12, y: 1482, width: 145, height: 27 }, style: { fill: PAT_D } });
graphic.push({ type: 'line', shape: { x1: 765, y1: 1373, x2: 897, y2: 1373 }, style: { stroke: '#000', lineWidth: 6 } });
graphic.push({ type: 'line', shape: { x1: 765, y1: 1414, x2: 897, y2: 1414 }, style: { stroke: '#0000ff', lineWidth: 10, lineDash: [9, 8, 3, 8] } });
graphic.push({ type: 'line', shape: { x1: 765, y1: 1453, x2: 897, y2: 1453 }, style: { stroke: '#ff00ff', lineWidth: 10, lineDash: [3, 6] } });
graphic.push({ type: 'line', shape: { x1: 765, y1: 1495, x2: 897, y2: 1495 }, style: { stroke: '#ff0000', lineWidth: 10, lineDash: [10, 7] } });

const LEG_RICH = {
  s: { fontFamily: SANS, fontSize: 17, lineHeight: 17, verticalAlign: 'bottom' },
  d: { fontFamily: SERIF, fontSize: 25, lineHeight: 32 },
  v: { fontFamily: SERIF, fontStyle: 'italic', fontSize: 24, lineHeight: 32 }
};
const LEGEND_TEXT = [
  [185, 1371, '±2σ parameter deviation, any  {d|δ}{s|13}(upper row only)'],
  [185, 1412, '±3% parameter deviation, any   {d|δ}{s|13}(upper row only)'],
  [185, 1451, 'any {d|δ}{s|13}, without any  {v|V} set (the same in all rows)'],
  [185, 1492, 'any {d|δ}{s|13}, {d|δ}{s|24}, {d|δ}{s|34} (middle and bottom rows)'],
  [915, 1371, 'all feasible CP phases equal to 0 (all rows)'],
  [915, 1412, 'only  {d|δ}{s|13}= π/2 (all rows)'],
  [915, 1451, 'only  {d|δ}{s|24}= π/2 (middle and bottom rows)'],
  [915, 1492, 'only  {d|δ}{s|34} = π/2 (middle and bottom rows)']
];
LEGEND_TEXT.forEach(([x, y, t]) => graphic.push({ type: 'text', x, y, style: { text: t, font: '24px ' + SANS, fill: '#000', textVerticalAlign: 'middle', lineHeight: 32, rich: LEG_RICH } }));

const chart = echarts.init(document.getElementById('c'), null, { renderer: 'canvas' });
chart.setOption({ animation: false, backgroundColor: '#fff', grid, xAxis, yAxis, series, graphic });
</script></body></html>
